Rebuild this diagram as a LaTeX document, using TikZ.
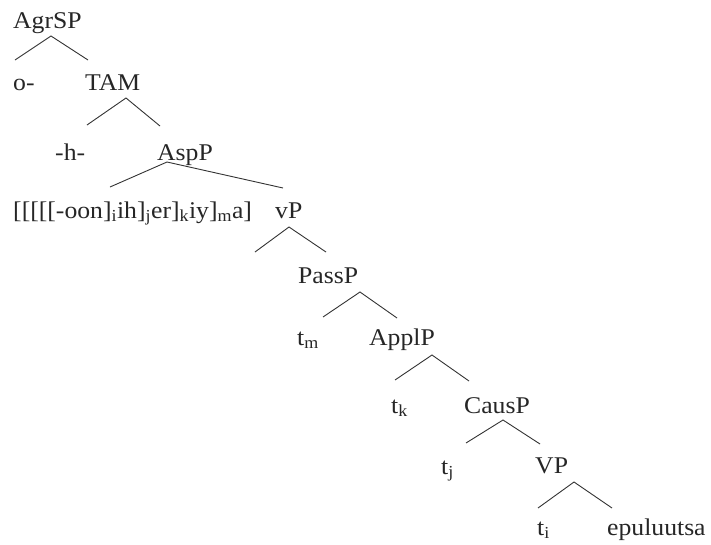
\documentclass[tikz,border=0pt]{standalone}
\usepackage{fontspec}
\setmainfont[FakeStretch=1.07]{Liberation Serif}
\usetikzlibrary{calc}
\begin{document}
\begin{tikzpicture}[x=1pt,y=-1pt,
  lbl/.style={inner sep=0pt,anchor=base west,text=black!85,font=\fontsize{24}{24}\selectfont},
  branch/.style={draw=black!80,line width=0.9pt}]
\useasboundingbox (0,0) rectangle (711,544);
% labels of the tree
\node[lbl] (agrsp) at (13,28) {AgrSP};
\node[lbl] (o)     at (13,90) {o-};
\node[lbl] (tam)   at (85,90) {TAM};
\node[lbl] (h)     at (55,160) {-h-};
\node[lbl] (asp)   at (157,160) {AspP};
\node[lbl] (morph) at (13,218) {[[[[[-oon]\textsubscript{i}ih]\textsubscript{j}er]\textsubscript{k}iy]\textsubscript{m}a]};
\node[lbl] (vp)    at (275,218) {vP};
\node[lbl] (passp) at (298,283) {PassP};
\node[lbl] (tm)    at (297,345) {t\textsubscript{m}};
\node[lbl] (applp) at (369,345) {ApplP};
\node[lbl] (tk)    at (391,413) {t\textsubscript{k}};
\node[lbl] (causp) at (464,413) {CausP};
\node[lbl] (tj)    at (441,474) {t\textsubscript{j}};
\node[lbl] (bigvp) at (535,473) {VP};
\node[lbl] (ti)    at (537,535) {t\textsubscript{i}};
\node[lbl] (epu)   at (607,535) {epuluutsa};
% empty left daughter of vP
\coordinate (vpleft) at (255,252);
% branches
\draw[branch] ($(o.base west)+(2,-30)$) -- ($(agrsp.base west)+(38,8)$) -- ($(tam.base west)+(3,-30)$);
\draw[branch] ($(h.base west)+(32,-35)$) -- ($(tam.base west)+(41,8)$) -- ($(asp.base west)+(3,-34)$);
\draw[branch] ($(morph.base west)+(97,-31)$) -- ($(asp.base west)+(10,2)$) -- ($(vp.base west)+(8,-30)$);
\draw[branch] (vpleft) -- ($(vp.base west)+(14,9)$) -- ($(passp.base west)+(28,-31)$);
\draw[branch] ($(tm.base west)+(26,-28)$) -- ($(passp.base west)+(62,9)$) -- ($(applp.base west)+(28,-27)$);
\draw[branch] ($(tk.base west)+(4,-33)$) -- ($(applp.base west)+(63,10)$) -- ($(causp.base west)+(5,-32)$);
\draw[branch] ($(tj.base west)+(25,-31)$) -- ($(causp.base west)+(39,7)$) -- ($(bigvp.base west)+(5,-29)$);
\draw[branch] ($(ti.base west)+(1,-27)$) -- ($(bigvp.base west)+(39,9)$) -- ($(epu.base west)+(5,-27)$);
\end{tikzpicture}
\end{document}
